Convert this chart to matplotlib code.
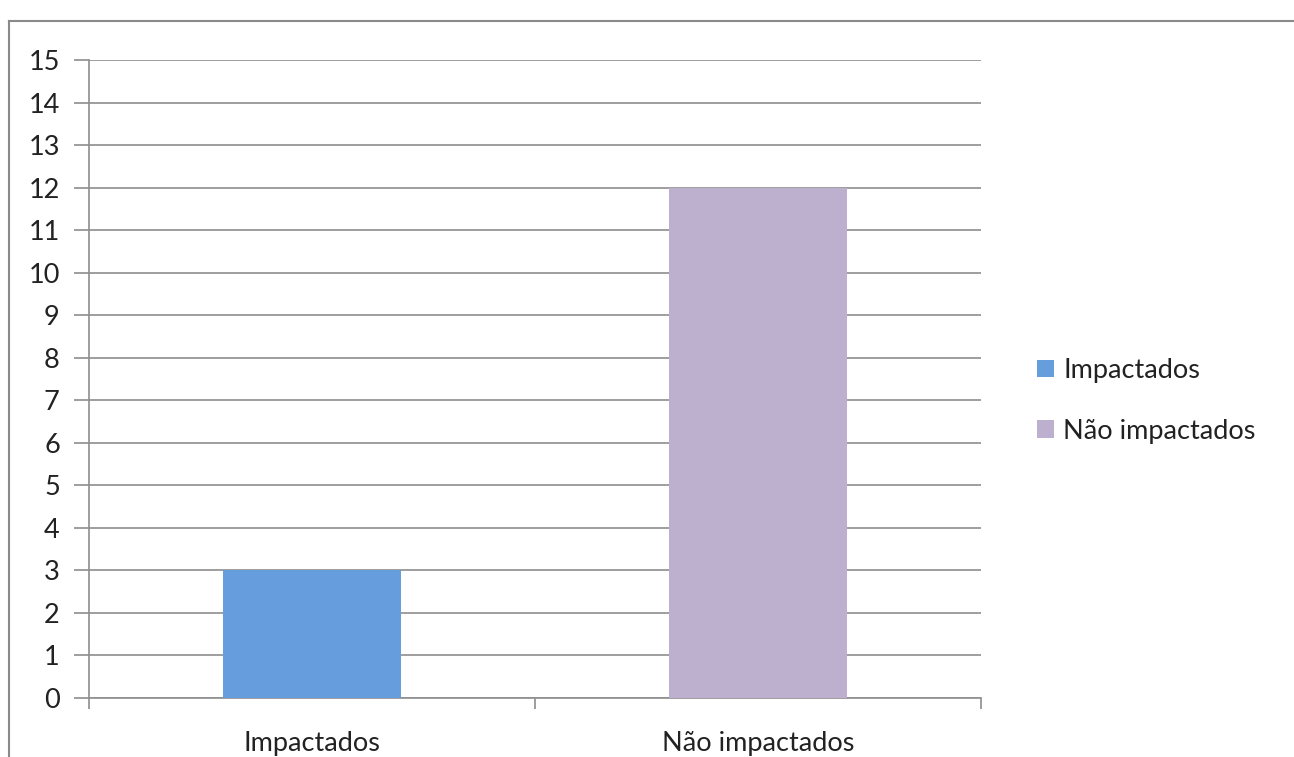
import matplotlib
matplotlib.use("Agg")
import matplotlib.pyplot as plt
from matplotlib.lines import Line2D
from matplotlib.patches import Patch

# chart data
categories = ["Impactados", "Não impactados"]
values = [3, 12]
colors = ["#669EDD", "#BDAFCE"]
yticks = list(range(0, 16))

plt.rcParams["font.family"] = ["Lato", "DejaVu Sans"]
grid_color = "#8E8E8E"
text_color = "#222222"
fs = 19.5

fig = plt.figure(figsize=(12.94, 7.57), dpi=100)
ax = fig.add_axes([89 / 1294, 1 - 698 / 757, (981 - 89) / 1294, (698 - 60) / 757])

x = list(range(len(categories)))
ax.bar(x, values, width=0.4, color=colors, zorder=3)

ax.set_xlim(-0.5, len(categories) - 0.5)
ax.set_ylim(0, 15)
ax.set_yticks(yticks)
ax.set_yticklabels([str(t) for t in yticks], fontsize=fs, color=text_color)
ax.yaxis.grid(True, color=grid_color, linewidth=1.2, zorder=0)

# category labels centred under bars, tick marks at category boundaries
ax.set_xticks(x)
ax.set_xticklabels(categories, fontsize=fs, color=text_color)
ax.tick_params(axis="x", length=0, pad=24)
ax.set_xticks([-0.5, 0.5, 1.5], minor=True)
ax.tick_params(axis="x", which="minor", length=8, color=grid_color, width=1.2)
ax.tick_params(axis="y", length=11, color=grid_color, width=1.2, pad=10)

for side in ["top", "right"]:
    ax.spines[side].set_visible(False)
for side in ["left", "bottom"]:
    ax.spines[side].set_color(grid_color)
    ax.spines[side].set_linewidth(1.2)

handles = [Patch(facecolor=c, edgecolor="none") for c in colors]
fig.legend(handles, categories, loc="center left",
           bbox_to_anchor=(1013 / 1294, 1 - 401 / 757), frameon=False,
           fontsize=fs, handlelength=0.6, handleheight=0.6,
           handletextpad=0.35, labelspacing=1.3, labelcolor=text_color)

# outer chart frame
fig.add_artist(Line2D([9 / 1294, 1], [1 - 21 / 757] * 2, transform=fig.transFigure,
                      color="#8A8A8A", linewidth=1.5))
fig.add_artist(Line2D([9 / 1294] * 2, [0, 1 - 21 / 757], transform=fig.transFigure,
                      color="#8A8A8A", linewidth=1.5))

fig.savefig("out.png", dpi=100, facecolor="white")
